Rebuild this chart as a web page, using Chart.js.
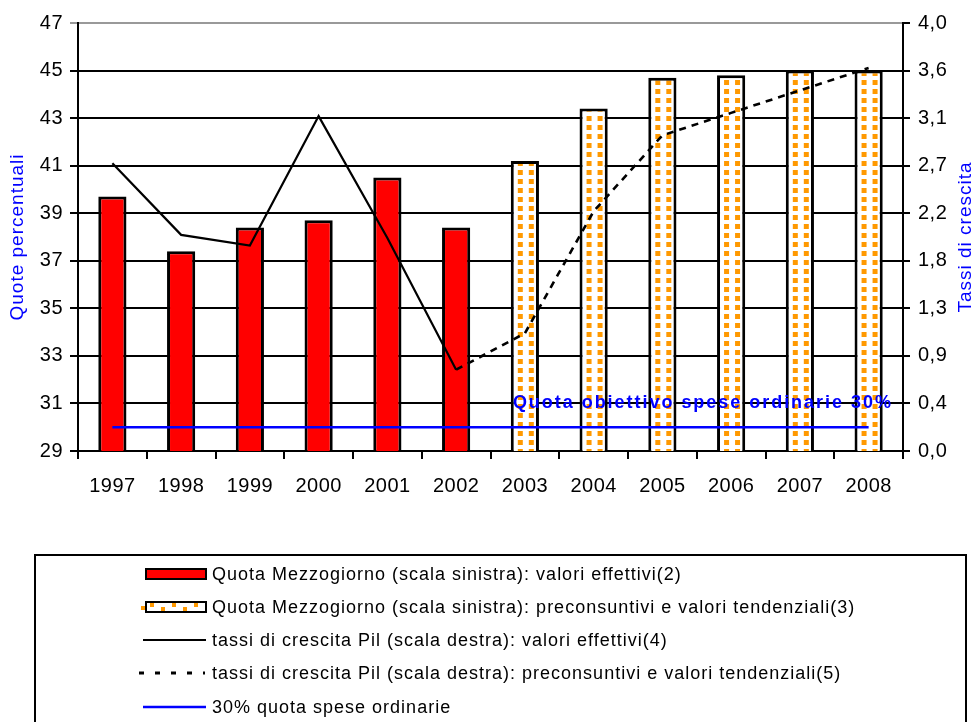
<!DOCTYPE html>
<html>
<head>
<meta charset="utf-8">
<script src="https://cdn.jsdelivr.net/npm/chart.js@4.4.0/dist/chart.umd.min.js"></script>
<style>
html,body{margin:0;padding:0;background:#fff;}
#wrap{position:relative;width:980px;height:722px;overflow:hidden;font-family:"Liberation Sans",Arial,sans-serif;}
#c{position:absolute;left:0;top:0;}
#legendBox{position:absolute;left:34px;top:554px;width:933px;height:220px;border:2px solid #000;box-sizing:border-box;}
.sym{position:absolute;left:139px;width:70px;height:20px;}
.lt{position:absolute;left:212px;font-size:18px;letter-spacing:1px;color:#000;white-space:nowrap;line-height:20px;}
</style>
</head>
<body>
<div id="wrap">
<canvas id="c" width="980" height="722"></canvas>
<div id="legendBox"></div>
<div id="legendRows"></div>
</div>
<script>
// ---- data ----
const categories = ['1997','1998','1999','2000','2001','2002','2003','2004','2005','2006','2007','2008'];
const quotaEffettivi   = [39.7, 37.4, 38.4, 38.7, 40.5, 38.4, null, null, null, null, null, null];
const quotaTendenziali = [null, null, null, null, null, null, 41.2, 43.4, 44.7, 44.8, 45.0, 45.0];
const pilEffettivi     = [2.69, 2.02, 1.92, 3.13, 1.99, 0.76, null, null, null, null, null, null];
const pilTendenziali   = [null, null, null, null, null, 0.76, 1.10, 2.24, 2.95, 3.16, 3.37, 3.58];
const quotaObiettivo   = [30, 30, 30, 30, 30, 30, 30, 30, 30, 30, 30, 30];
const leftTickValues   = [29, 31, 33, 35, 37, 39, 41, 43, 45, 47];
const rightTickValues  = [0, 4/9, 8/9, 12/9, 16/9, 20/9, 24/9, 28/9, 32/9, 4];
const rightTickLabels  = ['0,0','0,4','0,9','1,3','1,8','2,2','2,7','3,1','3,6','4,0'];
const legendLabels = [
  'Quota Mezzogiorno (scala sinistra): valori effettivi(2)',
  'Quota Mezzogiorno (scala sinistra): preconsuntivi e valori tendenziali(3)',
  'tassi di crescita Pil (scala destra): valori effettivi(4)',
  'tassi di crescita Pil (scala destra): preconsuntivi e valori tendenziali(5)',
  '30% quota spese ordinarie'
];
const leftTitle = 'Quote percentuali';
const rightTitle = 'Tassi di crescita';
const annotationText = 'Quota obiettivo spese ordinarie 30%';

const FONT = '"Liberation Sans", Arial, sans-serif';
const BAR_PCT = 0.41;
const ORANGE = '#FF9900';

// pattern tile
const tile = document.createElement('canvas');
tile.width = 11; tile.height = 9;
const tctx = tile.getContext('2d');
tctx.fillStyle = '#fff'; tctx.fillRect(0,0,11,9);
tctx.fillStyle = ORANGE; tctx.fillRect(0,0,5,5);

function patternFor(ctx){
  const chart = ctx.chart;
  const xs = chart.scales && chart.scales.x;
  if (!chart.chartArea || !xs || ctx.dataIndex === undefined) return '#fff';
  const pat = chart.ctx.createPattern(tile, 'repeat');
  const cx = xs.getPixelForValue(ctx.dataIndex);
  const w = xs.width / categories.length * BAR_PCT;
  const left = cx - w/2;
  pat.setTransform(new DOMMatrix([1,0,0,1,left + 7, chart.chartArea.top + 3]));
  return pat;
}

const textPlugin = {
  id: 'texts',
  beforeLayout(chart){ chart.ctx.letterSpacing = '0.5px'; },
  beforeDraw(chart){ chart.ctx.letterSpacing = '0.5px'; },
  afterDatasetsDraw(chart){
    const c = chart.ctx, a = chart.chartArea;
    c.save();
    // annotation
    c.font = 'bold 18px ' + FONT;
    c.letterSpacing = '0px';
    const w0 = c.measureText(annotationText).width;
    c.letterSpacing = ((380 - w0) / annotationText.length) + 'px';
    c.fillStyle = '#0000FF';
    c.textAlign = 'left';
    c.textBaseline = 'middle';
    const xs = chart.scales.x;
    c.fillText(annotationText, xs.getPixelForValue(6) - 12, chart.scales.y.getPixelForValue(31));
    // axis titles
    c.font = '19px ' + FONT;
    c.letterSpacing = '1px';
    c.textAlign = 'center';
    const midY = (a.top + a.bottom) / 2;
    c.save(); c.translate(18, midY); c.rotate(-Math.PI/2); c.fillText(leftTitle, 0, 0); c.restore();
    c.save(); c.translate(966, midY); c.rotate(-Math.PI/2); c.fillText(rightTitle, 0, 0); c.restore();
    c.restore();
  }
};

const chart = new Chart(document.getElementById('c'), {
  type: 'bar',
  data: {
    labels: categories,
    datasets: [
      {type:'line', data: quotaObiettivo, yAxisID:'y', borderColor:'#0000FF', borderWidth:2.5, pointRadius:0, order:0},
      {type:'line', data: pilEffettivi, yAxisID:'y1', borderColor:'#000', borderWidth:2.2, pointRadius:0, order:0},
      {type:'line', data: pilTendenziali, yAxisID:'y1', borderColor:'#000', borderWidth:2.6, borderDash:[7,6], pointRadius:0, order:0},
      {type:'bar', data: quotaEffettivi, yAxisID:'y', backgroundColor:'#FF0000', borderColor:'#000', borderWidth:3, grouped:false, barPercentage:BAR_PCT, categoryPercentage:1, order:1},
      {type:'bar', data: quotaTendenziali, yAxisID:'y', backgroundColor: patternFor, borderColor:'#000', borderWidth:3, grouped:false, barPercentage:BAR_PCT, categoryPercentage:1, order:1}
    ]
  },
  options: {
    responsive:false,
    animation:false,
    layout:{padding:{top:23,left:0,right:0,bottom:0}},
    plugins:{legend:{display:false}, tooltip:{enabled:false}},
    scales:{
      x:{
        grid:{offset:true, drawOnChartArea:false, drawTicks:true, tickLength:8, color:'#000', lineWidth:2},
        border:{color:'#000', width:2},
        ticks:{color:'#000', font:{size:20, family:FONT}, padding:15, maxRotation:0, autoSkip:false},
        afterFit(s){ s.height = 722 - 451; }
      },
      y:{
        position:'left', min:29, max:47,
        afterBuildTicks(s){ s.ticks = leftTickValues.map(v => ({value:v})); },
        ticks:{color:'#000', font:{size:20, family:FONT}, padding:7},
        grid:{color:(ctx)=> (ctx.tick && ctx.tick.value === 47) ? '#999' : '#000', lineWidth:2, tickLength:8},
        border:{color:'#000', width:2},
        afterFit(s){ s.width = 78; }
      },
      y1:{
        position:'right', min:0, max:4,
        afterBuildTicks(s){ s.ticks = rightTickValues.map(v => ({value:v})); },
        ticks:{color:'#000', font:{size:20, family:FONT}, padding:8, callback:(v,i)=> rightTickLabels[i]},
        grid:{drawOnChartArea:false, tickLength:7, color:'#000', lineWidth:2},
        border:{color:'#000', width:2},
        afterFit(s){ s.width = 77; }
      }
    }
  },
  plugins:[textPlugin]
});

// ---- HTML legend ----
const rowCenters = [574, 607, 640, 673, 707];
const symbols = [
  '<rect x="7" y="5" width="60" height="10" fill="#FF0000" stroke="#000" stroke-width="2"/>',
  '<rect x="7" y="5" width="60" height="10" fill="#fff" stroke="#000" stroke-width="2"/>' +
    '<rect x="2" y="9" width="4" height="4" fill="'+ORANGE+'"/>' +
    [11,22,33,44,55].map((x,i)=>'<rect x="'+x+'" y="'+(i%2? 10 : 6)+'" width="4" height="4" fill="'+ORANGE+'"/>').join(''),
  '<line x1="4" y1="10" x2="67" y2="10" stroke="#000" stroke-width="2"/>',
  '<line x1="0" y1="10" x2="66" y2="10" stroke="#000" stroke-width="3" stroke-dasharray="5 11"/>',
  '<line x1="4" y1="10" x2="67" y2="10" stroke="#0000FF" stroke-width="2.5"/>'
];
const rows = document.getElementById('legendRows');
legendLabels.forEach((lab, i) => {
  const cy = rowCenters[i];
  const s = document.createElementNS('http://www.w3.org/2000/svg','svg');
  s.setAttribute('class','sym'); s.setAttribute('width','70'); s.setAttribute('height','20');
  s.style.top = (cy - 10) + 'px';
  s.innerHTML = symbols[i];
  rows.appendChild(s);
  const t = document.createElement('div');
  t.className = 'lt'; t.style.top = (cy - 10) + 'px';
  t.textContent = lab;
  rows.appendChild(t);
});
</script>
</body>
</html>
